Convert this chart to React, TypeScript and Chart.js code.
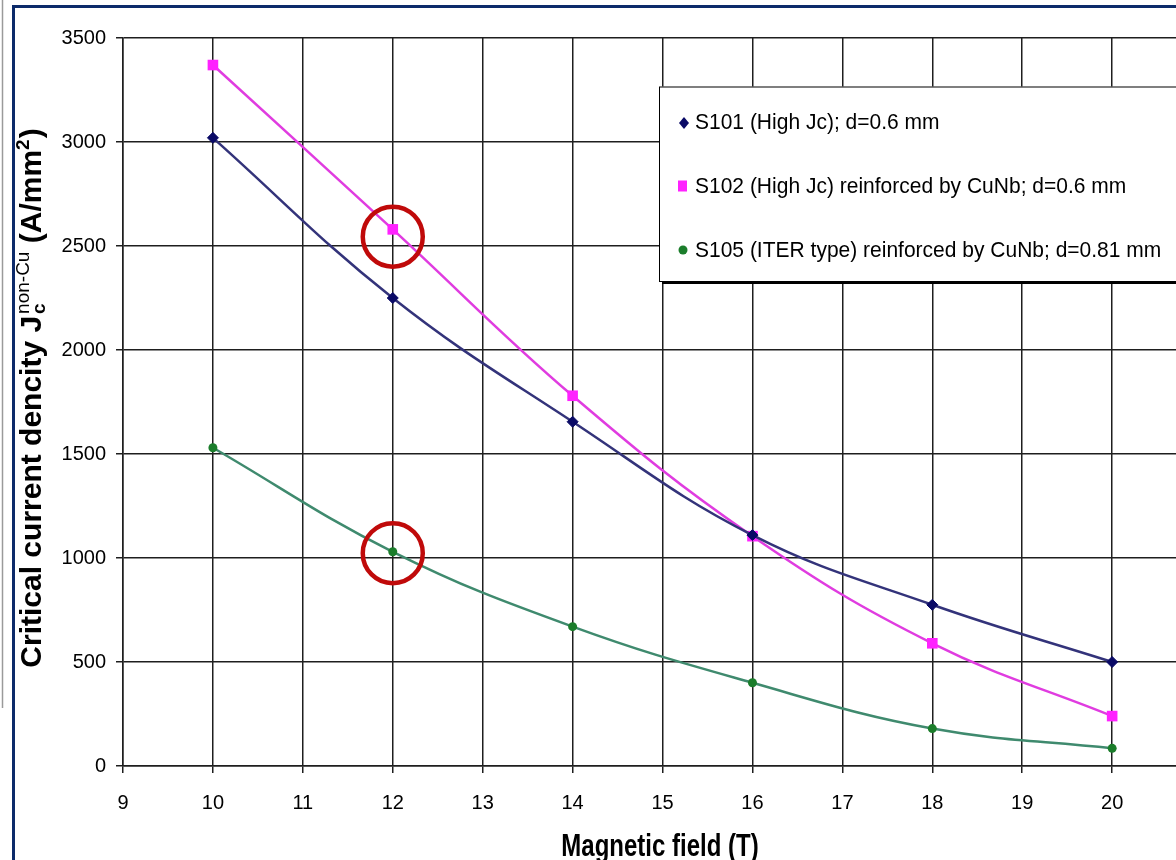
import React, { useEffect, useRef } from "react";
import { Chart, registerables } from "chart.js";

Chart.register(...registerables);

const fieldT = [10, 12, 14, 16, 18, 20];
const s101 = [3020, 2250, 1655, 1110, 775, 500];
const s102 = [3370, 2580, 1780, 1105, 590, 240];
const s105 = [1530, 1030, 670, 400, 180, 85];
const markX = [12, 12];
const markY = [2545, 1023];
const seriesNames = [
  "S101 (High Jc); d=0.6 mm",
  "S102 (High Jc) reinforced by CuNb; d=0.6 mm",
  "S105 (ITER type) reinforced by CuNb; d=0.81 mm",
];
const xTitle = "Magnetic field (T)";

const FONT = "'Liberation Sans', Arial, sans-serif";

const pts = (ys: number[]) => fieldT.map((x, i) => ({ x, y: ys[i] }));

const decor = {
  id: "decor",
  beforeDraw(chart: any) {
    const ctx = chart.ctx as CanvasRenderingContext2D;
    ctx.save();
    ctx.fillStyle = "#ffffff";
    ctx.fillRect(0, 0, chart.width, chart.height);
    ctx.strokeStyle = "#9a9a9a";
    ctx.lineWidth = 1.5;
    ctx.beginPath();
    ctx.moveTo(2.5, 0);
    ctx.lineTo(2.5, 708);
    ctx.stroke();
    ctx.fillStyle = "#0c2a6a";
    ctx.fillRect(12, 5, chart.width - 12, 3);
    ctx.fillRect(12, 5, 3, chart.height - 5);
    ctx.restore();
  },
  afterDraw(chart: any) {
    const ctx = chart.ctx as CanvasRenderingContext2D;
    ctx.save();
    const lx = 659, ly = 86.5, lw = 560, lh = 194.5;
    ctx.fillStyle = "#000";
    ctx.fillRect(lx + 3, ly + 3, lw, lh);
    ctx.fillStyle = "#fff";
    ctx.fillRect(lx, ly, lw, lh);
    ctx.strokeStyle = "#000";
    ctx.lineWidth = 1;
    ctx.strokeRect(lx + 0.5, ly + 0.5, lw, lh);
    const rows = [129.3, 192.7, 256.5];
    const mk = [123, 186, 250];
    ctx.fillStyle = "#0a0a66";
    ctx.beginPath();
    ctx.moveTo(684, mk[0] - 6);
    ctx.lineTo(689, mk[0]);
    ctx.lineTo(684, mk[0] + 6);
    ctx.lineTo(679, mk[0]);
    ctx.closePath();
    ctx.fill();
    ctx.fillStyle = "#ff22ff";
    ctx.fillRect(678, mk[1] - 5.5, 9, 11);
    ctx.fillStyle = "#1b7d2b";
    ctx.beginPath();
    ctx.arc(683, mk[2], 4.5, 0, Math.PI * 2);
    ctx.fill();
    ctx.fillStyle = "#000";
    ctx.font = `21px ${FONT}`;
    ctx.textBaseline = "alphabetic";
    ctx.textAlign = "left";
    seriesNames.forEach((t, i) => {
      ctx.save();
      ctx.translate(695, rows[i]);
      ctx.scale(1, 1.08);
      ctx.fillText(t, 0, 0);
      ctx.restore();
    });
    ctx.save();
    ctx.font = `bold 24px ${FONT}`;
    ctx.textAlign = "center";
    ctx.translate(660, 856);
    ctx.scale(1, 1.3);
    ctx.fillText(xTitle, 0, 0);
    ctx.restore();
    // Y title
    ctx.save();
    ctx.translate(30.7, 398);
    ctx.rotate(-Math.PI / 2);
    const main = `bold 30px ${FONT}`;
    const small = `19px ${FONT}`;
    const smallB = `bold 19px ${FONT}`;
    const parts: { t: string; f: string; dy: number; group?: string }[] = [
      { t: "Critical current dencity J", f: main, dy: 10.5 },
      { t: "c", f: smallB, dy: 14.5, group: "a" },
      { t: "non-Cu", f: small, dy: -1.5, group: "b" },
      { t: " (A/mm", f: main, dy: 10.5 },
      { t: "2", f: smallB, dy: -1.5 },
      { t: ")", f: main, dy: 10.5 },
    ];
    const widths = parts.map((p) => {
      ctx.font = p.f;
      return ctx.measureText(p.t).width;
    });
    const advance = [widths[0], 0, Math.max(widths[1], widths[2]) + 2, widths[3], widths[4] + 1, widths[5]];
    const total = advance.reduce((a, b) => a + b, 0);
    let x = -total / 2;
    ctx.textAlign = "left";
    ctx.textBaseline = "alphabetic";
    ctx.fillStyle = "#000";
    let groupStart = 0;
    parts.forEach((p, i) => {
      ctx.font = p.f;
      if (p.group === "a") {
        groupStart = x;
        ctx.fillText(p.t, x + 2, p.dy);
      } else if (p.group === "b") {
        ctx.fillText(p.t, groupStart + 2, p.dy);
        x = groupStart + advance[i];
        return;
      } else {
        ctx.fillText(p.t, x, p.dy);
      }
      x += advance[i];
    });
    ctx.restore();
    ctx.restore();
  },
};

export default function App() {
  const ref = useRef<HTMLCanvasElement | null>(null);
  useEffect(() => {
    if (!ref.current) return;
    const gridColor = "#1e1e1e";
    const chart = new Chart(ref.current, {
      type: "line",
      data: {
        datasets: [
          {
            label: "marks",
            data: markX.map((x, i) => ({ x, y: markY[i] })),
            showLine: false,
            pointStyle: "circle",
            pointRadius: 30,
            pointBorderWidth: 4.5,
            pointBorderColor: "#c00a0a",
            pointBackgroundColor: "rgba(0,0,0,0)",
            borderColor: "#c00a0a",
            backgroundColor: "rgba(0,0,0,0)",
            order: -1,
            clip: false as any,
          },
          {
            label: seriesNames[0],
            data: pts(s101),
            borderColor: "#33337a",
            borderWidth: 2.5,
            tension: 0.4,
            pointStyle: "rectRot",
            pointRadius: 5.5,
            pointBackgroundColor: "#0a0a66",
            pointBorderColor: "#0a0a66",
            pointBorderWidth: 1,
            fill: false,
          },
          {
            label: seriesNames[1],
            data: pts(s102),
            borderColor: "#e03ce0",
            borderWidth: 2.5,
            tension: 0.4,
            pointStyle: "rect",
            pointRadius: 7.5,
            pointBackgroundColor: "#ff22ff",
            pointBorderColor: "#ff22ff",
            pointBorderWidth: 0,
            fill: false,
          },
          {
            label: seriesNames[2],
            data: pts(s105),
            borderColor: "#3f8a6e",
            borderWidth: 2.5,
            tension: 0.4,
            pointStyle: "circle",
            pointRadius: 4.5,
            pointBackgroundColor: "#1b7d2b",
            pointBorderColor: "#1b7d2b",
            pointBorderWidth: 0,
            fill: false,
          },
        ],
      },
      options: {
        responsive: false,
        animation: false,
        events: [],
        layout: { autoPadding: false, padding: { top: 38, left: 0, right: 0, bottom: 0 } },
        plugins: {
          legend: { display: false },
          tooltip: { enabled: false },
          title: { display: false },
        },
        scales: {
          x: {
            type: "linear",
            min: 9,
            max: 20.71,
            afterFit: (s: any) => {
              s.height = 94;
              s.paddingLeft = 0;
              s.paddingRight = 0;
            },
            ticks: {
              stepSize: 1,
              includeBounds: false,
              color: "#000",
              padding: 18,
              font: { family: FONT, size: 20 },
              callback: (v: any) => String(v),
            },
            grid: { color: gridColor, lineWidth: 1.5, tickLength: 7, tickColor: gridColor },
            border: { color: gridColor, width: 1.5 },
          },
          y: {
            type: "linear",
            min: 0,
            max: 3500,
            afterFit: (s: any) => {
              s.width = 123;
              s.paddingTop = 0;
              s.paddingBottom = 0;
            },
            ticks: {
              stepSize: 500,
              color: "#000",
              padding: 10,
              font: { family: FONT, size: 20 },
              callback: (v: any) => String(v),
            },
            grid: { color: gridColor, lineWidth: 1.5, tickLength: 7, tickColor: gridColor },
            border: { color: gridColor, width: 1.5 },
          },
        },
      },
      plugins: [decor],
    });
    return () => chart.destroy();
  }, []);
  return (
    <div style={{ position: "absolute", left: 0, top: 0, width: 1176, height: 860 }}>
      <canvas ref={ref} width={1176} height={860} style={{ display: "block" }} />
    </div>
  );
}
